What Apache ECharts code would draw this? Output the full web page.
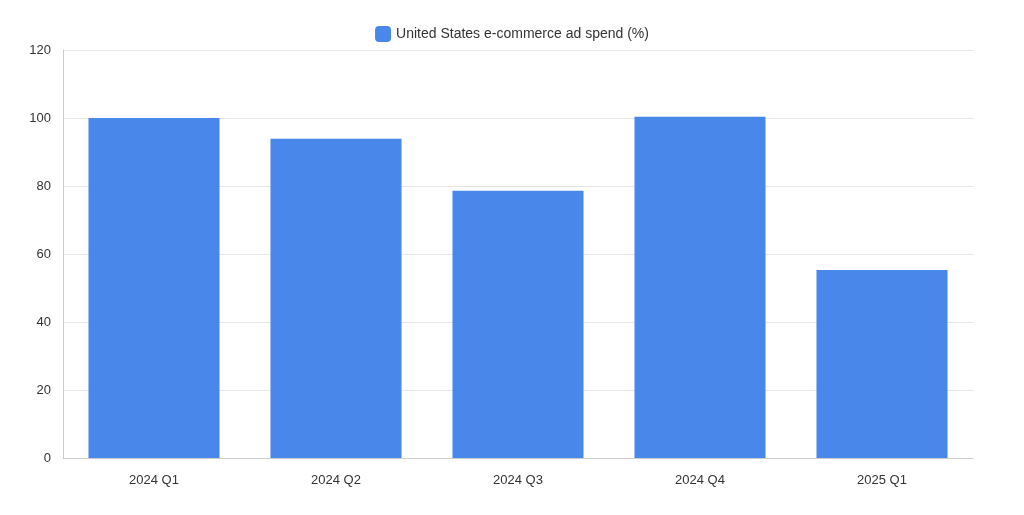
<!DOCTYPE html>
<html>
<head>
<meta charset="utf-8">
<script src="https://cdn.jsdelivr.net/npm/echarts@6/dist/echarts.min.js"></script>
<style>html,body{margin:0;padding:0;background:#fff}#chart{width:1024px;height:515px}</style>
</head>
<body>
<div id="chart"></div>
<script>
var categories = ['2024 Q1', '2024 Q2', '2024 Q3', '2024 Q4', '2025 Q1'];
var adSpend = [100, 93.9, 78.6, 100.4, 55.3];
var seriesName = 'United States e-commerce ad spend (%)';

var chart = echarts.init(document.getElementById('chart'));
chart.setOption({
    textStyle: { fontFamily: 'Helvetica, Arial, "Liberation Sans", sans-serif' },
    legend: {
        data: [seriesName],
        top: 21,
        left: 'center',
        itemWidth: 16,
        itemHeight: 16,
        textStyle: { fontSize: 14, color: '#333' }
    },
    grid: { left: 63, right: 51, top: 50, bottom: 57 },
    xAxis: {
        type: 'category',
        data: categories,
        axisTick: { show: false },
        axisLine: { lineStyle: { color: '#ccc' } },
        axisLabel: { color: '#333', fontSize: 13, margin: 16 }
    },
    yAxis: {
        type: 'value',
        min: 0,
        max: 120,
        interval: 20,
        axisLine: { show: true, lineStyle: { color: '#ccc' } },
        splitLine: { lineStyle: { color: '#e6e6e6' } },
        axisLabel: { color: '#333', fontSize: 13, margin: 12 }
    },
    series: [{
        name: seriesName,
        type: 'bar',
        data: adSpend,
        barWidth: '72%',
        itemStyle: { color: '#4a87eb' }
    }]
});
</script>
</body>
</html>
